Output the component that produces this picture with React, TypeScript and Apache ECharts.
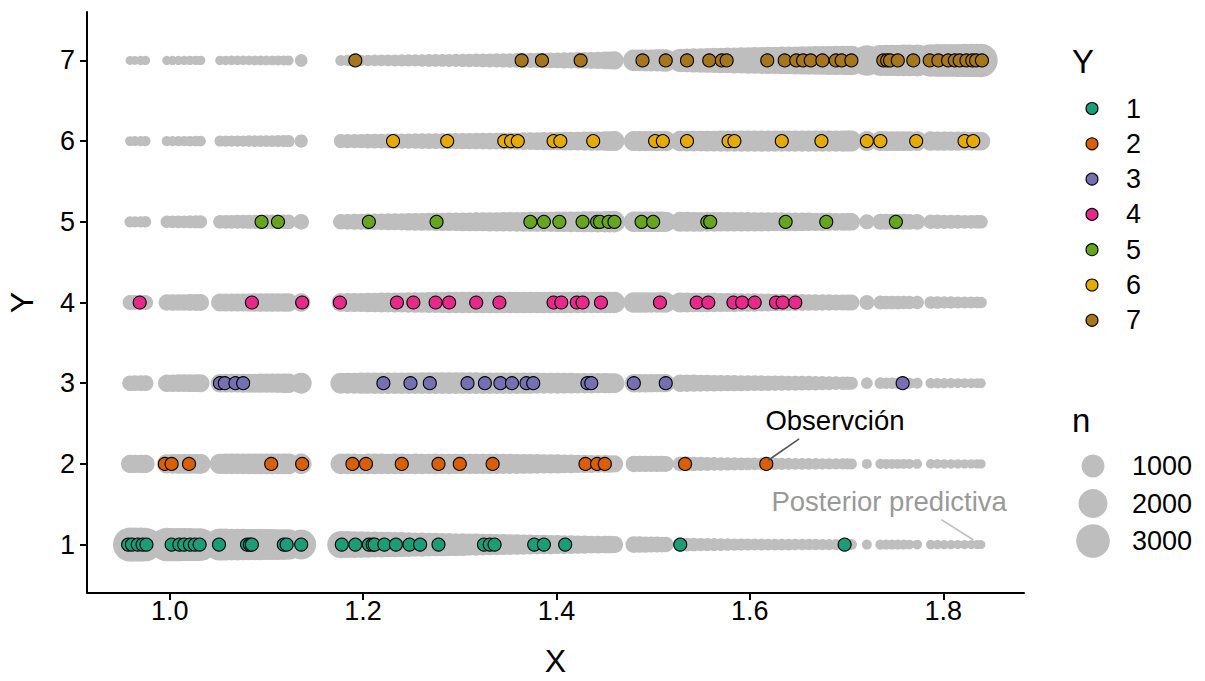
import { useEffect, useRef } from "react";
import * as echarts from "echarts";

const FONT = '"Liberation Sans", Arial, Helvetica, sans-serif';

// ---------- data ----------
const yLevels = [1, 2, 3, 4, 5, 6, 7];
const palette = ["#1B9E77", "#D95F02", "#7570B3", "#E7298A", "#66A61E", "#E6AB02", "#A6761D"];
const GRAY = "#BEBEBE";

const xTicks = [1.0, 1.2, 1.4, 1.6, 1.8];
const yTicks = [1, 2, 3, 4, 5, 6, 7];
const sizeLegendN = [1000, 2000, 3000];

// observed points (X) for each Y level
const obsY1 = [0.957, 0.961, 0.967, 0.972, 0.976, 1.002, 1.010, 1.015, 1.021, 1.026, 1.031, 1.051, 1.080, 1.083, 1.085, 1.118, 1.121, 1.136, 1.178, 1.192, 1.206, 1.210, 1.212, 1.222, 1.234, 1.248, 1.259, 1.278, 1.325, 1.331, 1.336, 1.377, 1.387, 1.409, 1.528, 1.698];
const obsY2 = [0.995, 1.002, 1.020, 1.105, 1.137, 1.189, 1.203, 1.240, 1.278, 1.300, 1.334, 1.430, 1.442, 1.450, 1.533, 1.617];
const obsY3 = [1.052, 1.057, 1.068, 1.076, 1.221, 1.249, 1.269, 1.308, 1.326, 1.342, 1.354, 1.369, 1.376, 1.432, 1.436, 1.480, 1.513, 1.758];
const obsY4 = [0.969, 1.085, 1.137, 1.176, 1.235, 1.252, 1.275, 1.289, 1.317, 1.341, 1.397, 1.405, 1.421, 1.427, 1.446, 1.507, 1.545, 1.557, 1.583, 1.592, 1.605, 1.627, 1.634, 1.647];
const obsY5 = [1.095, 1.112, 1.206, 1.276, 1.373, 1.387, 1.403, 1.427, 1.442, 1.445, 1.454, 1.460, 1.488, 1.500, 1.556, 1.559, 1.637, 1.679, 1.751];
const obsY6 = [1.231, 1.287, 1.346, 1.353, 1.360, 1.397, 1.404, 1.438, 1.502, 1.510, 1.535, 1.578, 1.584, 1.633, 1.674, 1.721, 1.735, 1.772, 1.822, 1.831];
const obsY7 = [1.192, 1.364, 1.385, 1.425, 1.489, 1.513, 1.535, 1.558, 1.571, 1.576, 1.618, 1.636, 1.648, 1.655, 1.663, 1.675, 1.689, 1.695, 1.705, 1.738, 1.742, 1.745, 1.753, 1.769, 1.786, 1.795, 1.805, 1.812, 1.817, 1.824, 1.830, 1.834, 1.840];

// posterior predictive: X positions shared by every Y level
const grayX = [
  0.959, 0.964, 0.970, 0.975,
  0.997, 1.003, 1.009, 1.015, 1.021, 1.027, 1.032,
  1.052, 1.058, 1.064, 1.070, 1.076, 1.082, 1.088, 1.094, 1.100, 1.106, 1.112, 1.118, 1.123,
  1.136,
  1.177, 1.184, 1.191, 1.198, 1.205, 1.212, 1.219, 1.226, 1.233, 1.240, 1.247, 1.254, 1.261, 1.268, 1.275, 1.282, 1.289, 1.296, 1.303, 1.310, 1.317, 1.324, 1.331, 1.338, 1.345, 1.352, 1.359, 1.366, 1.373, 1.380, 1.387, 1.394, 1.401, 1.408, 1.415, 1.422, 1.429, 1.436, 1.443, 1.450, 1.455, 1.460,
  1.480, 1.486, 1.492, 1.498, 1.504, 1.509, 1.513,
  1.528, 1.535, 1.542, 1.549, 1.556, 1.563, 1.570, 1.577, 1.584, 1.591, 1.598, 1.605, 1.612, 1.619, 1.626, 1.633, 1.640, 1.647, 1.654, 1.661, 1.668, 1.675, 1.682, 1.689, 1.696, 1.701, 1.705,
  1.721,
  1.735, 1.741, 1.747, 1.753, 1.759, 1.765, 1.773,
  1.787, 1.794, 1.801, 1.808, 1.815, 1.822, 1.829, 1.835, 1.839,
];

// posterior predictive counts n for each Y level, aligned with grayX
const nY1 = [
  3100, 3120, 3080, 2980,
  2980, 2930, 2940, 2870, 2850, 2810, 2750,
  2640, 2620, 2590, 2550, 2520, 2500, 2480, 2450, 2420, 2410, 2370, 2330, 2300,
  2200,
  1690, 1640, 1590, 1570, 1520, 1470, 1420, 1390, 1320, 1300, 1250, 1190, 1170, 1110, 1080, 1030, 1010, 970, 955, 900, 880, 835, 815, 765, 750, 705, 695, 645, 635, 595, 585, 545, 530, 500, 485, 455, 445, 415, 410, 380, 385, 365,
  320, 300, 295, 270, 265, 245, 235,
  145, 135, 120, 110, 100, 95, 85, 78, 72, 66, 62, 58, 56, 55, 52, 50, 48, 47, 46, 44, 42, 40, 38, 35, 33, 31, 30,
  11,
  12, 11, 11, 10, 10, 9, 9,
  5, 5, 4, 4, 3, 3, 2, 2, 1,
];
const nY2 = [
  450, 460, 465, 470,
  560, 585, 600, 610, 615, 620, 630,
  680, 690, 700, 705, 710, 715, 720, 720, 720, 725, 725, 725, 725,
  710,
  700, 690, 695, 685, 690, 700, 690, 685, 695, 690, 680, 690, 685, 680, 690, 680, 685, 675, 680, 670, 665, 660, 655, 650, 645, 640, 630, 610, 595, 580, 560, 545, 530, 510, 490, 470, 450, 430, 415, 400, 385, 370,
  305, 300, 290, 285, 280, 275, 268,
  200, 185, 170, 155, 140, 130, 118, 108, 100, 94, 88, 82, 78, 73, 68, 64, 60, 56, 53, 50, 46, 43, 40, 37, 34, 31, 30,
  11,
  12, 11, 11, 10, 10, 9, 9,
  6, 6, 5, 5, 5, 4, 4, 3, 3,
];
const nY3 = [
  240, 245, 250, 255,
  380, 390, 400, 405, 410, 415, 420,
  480, 490, 500, 510, 520, 525, 530, 540, 550, 560, 570, 580, 590,
  745,
  740, 750, 760, 770, 780, 790, 795, 800, 805, 810, 815, 820, 825, 825, 830, 830, 835, 830, 830, 825, 825, 820, 815, 810, 805, 800, 795, 785, 775, 765, 755, 745, 735, 720, 710, 700, 690, 680, 665, 655, 640, 630,
  480, 470, 465, 460, 455, 450, 445,
  390, 375, 360, 345, 330, 315, 300, 290, 280, 270, 262, 255, 245, 235, 225, 215, 207, 200, 190, 180, 168, 155, 140, 128, 115, 105, 98,
  49,
  49, 46, 43, 40, 37, 33, 30,
  19, 17, 15, 14, 12, 11, 10, 8, 7,
];
const nY4 = [
  195, 200, 205, 210,
  295, 305, 315, 320, 330, 340, 345,
  410, 420, 430, 440, 445, 450, 455, 460, 460, 465, 465, 470, 470,
  470,
  495, 510, 530, 550, 570, 590, 605, 620, 635, 650, 670, 690, 710, 730, 750, 770, 785, 800, 810, 815, 820, 825, 830, 830, 835, 835, 835, 835, 830, 830, 830, 830, 825, 825, 820, 820, 815, 815, 810, 810, 805, 805,
  700, 695, 690, 685, 680, 675, 670,
  630, 615, 600, 585, 570, 555, 540, 525, 505, 490, 475, 455, 435, 415, 395, 375, 355, 340, 330, 320, 310, 300, 292, 285, 278, 272, 268,
  201,
  135, 130, 128, 125, 122, 118, 115,
  80, 76, 72, 68, 64, 60, 56, 52, 49,
];
const nY5 = [
  35, 36, 38, 40,
  75, 80, 84, 88, 92, 96, 100,
  125, 130, 135, 140, 145, 150, 155, 160, 165, 170, 175, 180, 185,
  247,
  235, 250, 265, 280, 295, 310, 325, 340, 355, 370, 385, 400, 415, 430, 445, 460, 475, 485, 495, 505, 520, 535, 550, 560, 575, 585, 600, 615, 625, 640, 650, 665, 680, 695, 710, 725, 740, 755, 770, 780, 795, 805,
  700, 695, 690, 685, 680, 675, 670,
  630, 620, 615, 610, 600, 595, 590, 585, 580, 575, 570, 560, 550, 540, 530, 520, 510, 500, 490, 475, 460, 445, 430, 415, 400, 390, 385,
  201,
  275, 270, 268, 265, 262, 258, 255,
  172, 165, 158, 150, 143, 136, 130, 124, 119,
];
const nY6 = [
  10, 11, 12, 13,
  14, 15, 16, 17, 18, 19, 20,
  30, 33, 36, 39, 42, 45, 48, 51, 54, 57, 60, 63, 66,
  110,
  145, 150, 160, 168, 176, 185, 193, 200, 210, 218, 226, 234, 242, 250, 258, 266, 275, 283, 292, 300, 310, 320, 330, 340, 352, 365, 380, 395, 410, 425, 440, 455, 470, 485, 500, 515, 530, 545, 560, 575, 600, 630,
  630, 635, 640, 645, 650, 655, 660,
  690, 700, 710, 720, 730, 740, 750, 760, 770, 775, 780, 782, 785, 785, 785, 785, 782, 780, 778, 775, 770, 765, 760, 755, 750, 748, 745,
  630,
  630, 625, 620, 615, 610, 605, 600,
  577, 570, 560, 550, 540, 530, 520, 505, 496,
];
const nY7 = [
  1, 1, 2, 2,
  2, 3, 3, 3, 4, 4, 4,
  5, 5, 6, 6, 7, 7, 8, 8, 9, 9, 10, 10, 11,
  84,
  30, 33, 36, 40, 44, 48, 52, 56, 60, 64, 68, 72, 77, 82, 87, 92, 97, 103, 110, 118, 126, 135, 145, 155, 165, 175, 185, 197, 210, 222, 235, 248, 262, 278, 295, 312, 330, 350, 370, 395, 420, 455,
  830, 845, 860, 875, 890, 910, 935,
  1070, 1120, 1170, 1220, 1270, 1320, 1370, 1420, 1460, 1500, 1540, 1580, 1620, 1660, 1700, 1740, 1780, 1820, 1860, 1900, 1930, 1960, 1990, 2020, 2050, 2080, 2100,
  2310,
  2410, 2450, 2490, 2530, 2570, 2600, 2630,
  2750, 2780, 2810, 2840, 2870, 2900, 2930, 2960, 2980,
];

const obsRows = [obsY1, obsY2, obsY3, obsY4, obsY5, obsY6, obsY7];
const nRows = [nY1, nY2, nY3, nY4, nY5, nY6, nY7];

// annotations (data coordinates)
const obsNote = { text: "Observción", x: 1.688, y: 2.535, from: [1.651, 2.31], to: [1.619, 2.045] };
const ppNote = { text: "Posterior predictiva", x: 1.744, y: 1.54, from: [1.798, 1.31], to: [1.831, 1.06] };

// size scale: diameter (px) from n
const sizeOf = (n: number) => 8.5 + 0.458 * Math.sqrt(n);

export default function App() {
  const ref = useRef<HTMLDivElement>(null);

  useEffect(() => {
    const el = ref.current;
    if (!el) return;
    const chart = echarts.init(el, undefined, { renderer: "svg", width: 1205, height: 681 });

    const grayData: number[][] = [];
    nRows.forEach((arr, i) => {
      arr.forEach((n, j) => grayData.push([grayX[j], yLevels[i], n]));
    });

    const series: any[] = [
      {
        type: "scatter",
        name: "posterior",
        data: grayData,
        symbol: "circle",
        symbolSize: (v: number[]) => sizeOf(v[2]),
        itemStyle: { color: GRAY, opacity: 1 },
        emphasis: { disabled: true },
        silent: true,
        z: 1,
      },
      ...obsRows.map((xs, i) => ({
        type: "scatter",
        name: String(yLevels[i]),
        data: xs.map((x) => [x, yLevels[i]]),
        symbol: "circle",
        symbolSize: 13,
        itemStyle: { color: palette[i], borderColor: "#000", borderWidth: 1.1, opacity: 1 },
        emphasis: { disabled: true },
        silent: true,
        z: 3,
      })),
    ];

    const axisCommon = {
      type: "value" as const,
      splitLine: { show: false },
      axisLine: { show: true, onZero: false, lineStyle: { color: "#000", width: 2 } },
    };

    chart.setOption({
      animation: false,
      backgroundColor: "#fff",
      grid: { left: 87, top: 12, width: 937, height: 581, outerBoundsMode: "none", containLabel: false },
      xAxis: {
        ...axisCommon,
        min: 0.9145,
        max: 1.8835,
        axisTick: { show: true, length: 7, customValues: xTicks, lineStyle: { color: "#000", width: 2 } },
        axisLabel: {
          customValues: xTicks,
          formatter: (v: number) => v.toFixed(1),
          color: "#000",
          fontSize: 27,
          fontFamily: FONT,
          margin: 4,
        },
      },
      yAxis: {
        ...axisCommon,
        min: 0.4,
        max: 7.6,
        axisTick: { show: true, length: 7, customValues: yTicks, lineStyle: { color: "#000", width: 2 } },
        axisLabel: {
          customValues: yTicks,
          formatter: (v: number) => String(v),
          color: "#000",
          fontSize: 27,
          fontFamily: FONT,
          margin: 12,
        },
      },
      series,
    });

    const px = (p: number[]) => chart.convertToPixel({ gridIndex: 0 }, p) as number[];

    const graphics: any[] = [];
    // axis titles
    graphics.push({
      type: "text",
      x: 555.5,
      y: 661,
      style: { text: "X", font: `32px ${FONT}`, fill: "#000", align: "center", verticalAlign: "middle" },
    });
    graphics.push({
      type: "text",
      x: 22,
      y: 302.5,
      rotation: Math.PI / 2,
      style: { text: "Y", font: `32px ${FONT}`, fill: "#000", align: "center", verticalAlign: "middle" },
    });

    // annotations
    const oA = px(obsNote.from), oB = px(obsNote.to), oT = px([obsNote.x, obsNote.y]);
    graphics.push({ type: "line", shape: { x1: oA[0], y1: oA[1], x2: oB[0], y2: oB[1] }, style: { stroke: "#555", lineWidth: 1.6 }, z: 10 });
    graphics.push({
      type: "text", x: oT[0], y: oT[1], z: 10,
      style: { text: obsNote.text, font: `27.5px ${FONT}`, fill: "#000", align: "center", verticalAlign: "middle" },
    });
    const pA = px(ppNote.from), pB = px(ppNote.to), pT = px([ppNote.x, ppNote.y]);
    graphics.push({ type: "line", shape: { x1: pA[0], y1: pA[1], x2: pB[0], y2: pB[1] }, style: { stroke: "#BEBEBE", lineWidth: 1.6 }, z: 10 });
    graphics.push({
      type: "text", x: pT[0], y: pT[1], z: 10,
      style: { text: ppNote.text, font: `27.5px ${FONT}`, fill: "#999999", align: "center", verticalAlign: "middle" },
    });

    // legend: Y (colour)
    graphics.push({
      type: "text", x: 1072, y: 61,
      style: { text: "Y", font: `33px ${FONT}`, fill: "#000", align: "left", verticalAlign: "middle" },
    });
    yLevels.forEach((lv, i) => {
      const cy = 108.5 + i * 35.3;
      graphics.push({ type: "circle", shape: { cx: 1092, cy, r: 6 }, style: { fill: palette[i], stroke: "#000", lineWidth: 1.1 } });
      graphics.push({
        type: "text", x: 1126, y: cy,
        style: { text: String(lv), font: `27px ${FONT}`, fill: "#000", align: "left", verticalAlign: "middle" },
      });
    });

    // legend: n (size)
    graphics.push({
      type: "text", x: 1072, y: 420,
      style: { text: "n", font: `33px ${FONT}`, fill: "#000", align: "left", verticalAlign: "middle" },
    });
    const sizeY = [466, 503.5, 541];
    sizeLegendN.forEach((n, i) => {
      graphics.push({ type: "circle", shape: { cx: 1093, cy: sizeY[i], r: sizeOf(n) / 2 }, style: { fill: GRAY } });
      graphics.push({
        type: "text", x: 1132, y: sizeY[i],
        style: { text: String(n), font: `27px ${FONT}`, fill: "#000", align: "left", verticalAlign: "middle" },
      });
    });

    chart.setOption({ graphic: graphics });

    return () => chart.dispose();
  }, []);

  return <div ref={ref} style={{ position: "absolute", left: 0, top: 0, width: 1205, height: 681 }} />;
}
